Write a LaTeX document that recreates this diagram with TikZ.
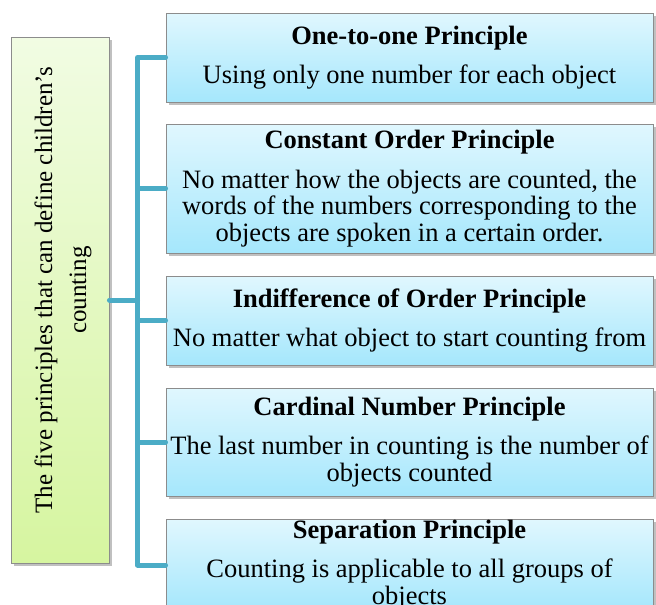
\documentclass[tikz,border=0pt]{standalone}
\usepackage{fontspec}
\setmainfont{Liberation Serif}
\usetikzlibrary{shadows}
\definecolor{boxtop}{HTML}{E0F7FE}
\definecolor{boxbot}{HTML}{A5E7FC}
\definecolor{greentop}{HTML}{F1FCE3}
\definecolor{greenbot}{HTML}{D6F5A0}
\definecolor{edgegray}{HTML}{8C8C8C}
\definecolor{conncol}{HTML}{4BACC6}
\tikzset{
  princbox/.style={draw=edgegray, line width=0.9pt, top color=boxtop, bottom color=boxbot,
    minimum width=487pt, inner sep=0pt, align=center,
    font=\fontsize{26.5}{26.5}\selectfont,
    drop shadow={shadow xshift=2.5pt, shadow yshift=-2.5pt, opacity=0.35, fill=black!70}},
  leftbox/.style={draw=edgegray, line width=0.9pt, top color=greentop, bottom color=greenbot,
    minimum width=98pt, minimum height=526pt, inner sep=0pt,
    drop shadow={shadow xshift=2.5pt, shadow yshift=-2.5pt, opacity=0.35, fill=black!70}},
  conn/.style={draw=conncol, line width=5pt, line join=round, line cap=round},
}
\newcommand{\ttl}[1]{\textbf{#1}\\[13pt]}
\begin{document}
\begin{tikzpicture}[x=1pt, y=-1pt]
\useasboundingbox (0,0) rectangle (656,605);
\fill[white] (0,0) rectangle (656,605);
\coordinate (tTop) at (137.5,57.5);
\coordinate (tBot) at (137.5,563.5);
\node[leftbox] (lbox) at (60,300) {};
\node[princbox, minimum height=89pt] (b1) at (409.5,57.5)
  {\ttl{One-to-one Principle}Using only one number for each object};
\node[princbox, minimum height=129pt] (b2) at (409.5,188.5)
  {\ttl{Constant Order Principle}No matter how the objects are counted, the\\words of the numbers corresponding to the\\objects are spoken in a certain order.};
\node[princbox, minimum height=89pt] (b3) at (409.5,320.5)
  {\ttl{Indifference of Order Principle}No matter what object to start counting from};
\node[princbox, minimum height=108pt] (b4) at (409.5,442)
  {\ttl{Cardinal Number Principle}The last number in counting is the number of\\objects counted};
\node[princbox, minimum height=91pt] (b5) at (409.5,565)
  {\ttl{Separation Principle}Counting is applicable to all groups of\\objects};
\node[rotate=90, align=center, font=\fontsize{25}{34}\selectfont] (ltext) at ([xshift=3pt, yshift=10pt]lbox.center)
  {The five principles that can define children's\\counting};
\draw[conn] (b1.west) -- (tTop) -- (tBot) -- (b5.west -| tBot) -- (b5.west);
\draw[conn] (b2.west) -- (b2.west -| tTop);
\draw[conn] (b3.west) -- (b3.west -| tTop);
\draw[conn] (b4.west) -- (b4.west -| tTop);
\draw[conn] (lbox.east) -- (lbox.east -| tTop);
\end{tikzpicture}
\end{document}
